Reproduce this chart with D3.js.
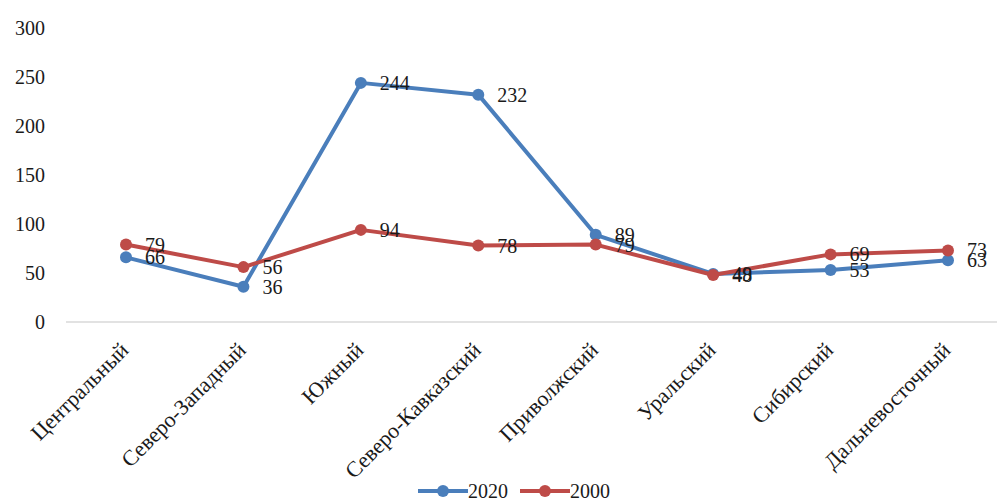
<!DOCTYPE html>
<html>
<head>
<meta charset="utf-8">
<script src="https://cdn.jsdelivr.net/npm/d3@7"></script>
<style>
  html, body { margin: 0; padding: 0; background: #fff; }
  svg { display: block; }
</style>
</head>
<body>
<svg id="chart" width="997" height="502"></svg>
<script>
// Federal districts
const categories = ["Центральный", "Северо-Западный", "Южный", "Северо-Кавказский",
                    "Приволжский", "Уральский", "Сибирский", "Дальневосточный"];
const values2020 = [66, 36, 244, 232, 89, 49, 53, 63];
const values2000 = [79, 56, 94, 78, 79, 48, 69, 73];
const yTicks = [0, 50, 100, 150, 200, 250, 300];
const seriesNames = ["2020", "2000"];
const seriesColors = ["#4A7EBB", "#BE4B48"];

const FONT = "'Liberation Serif', 'Times New Roman', Times, serif";
const FONT_SIZE = "20px";
const CAT_FONT_SIZE = "22px";
const TEXT_COLOR = "#1a1a1a";

const series = [
  { name: seriesNames[0], values: values2020, color: seriesColors[0] },
  { name: seriesNames[1], values: values2000, color: seriesColors[1] }
];

const svg = d3.select("#chart")
  .attr("font-family", FONT)
  .style("font-family", FONT);

const x = d3.scalePoint().domain(categories).range([126, 948]);
const y = d3.scaleLinear().domain([0, 300]).range([322, 28]);

// Baseline
svg.append("line")
  .attr("x1", 66).attr("x2", 997)
  .attr("y1", y(0)).attr("y2", y(0))
  .attr("stroke", "#d9d9d9").attr("stroke-width", 1.5);

// Y axis labels
const yAxis = svg.append("g")
  .attr("transform", "translate(45,0)")
  .call(d3.axisLeft(y).tickValues(yTicks).tickSize(0).tickPadding(0))
  .attr("font-family", FONT)
  .attr("font-size", FONT_SIZE);
yAxis.select(".domain").remove();
yAxis.selectAll("text")
  .style("font-family", FONT)
  .style("font-size", FONT_SIZE)
  .attr("fill", TEXT_COLOR);

// X axis category labels, rotated 45 degrees
const xAxis = svg.append("g")
  .attr("transform", `translate(0,${y(0)})`)
  .call(d3.axisBottom(x).tickSize(0).tickPadding(0))
  .attr("font-family", FONT)
  .attr("font-size", CAT_FONT_SIZE);
xAxis.select(".domain").remove();
xAxis.selectAll("text")
  .style("font-family", FONT)
  .style("font-size", CAT_FONT_SIZE)
  .attr("fill", TEXT_COLOR)
  .attr("text-anchor", "end")
  .attr("y", 0)
  .attr("dy", "0.35em")
  .attr("transform", "translate(-2,24) rotate(-45)");

const line = d3.line()
  .x((d, i) => x(categories[i]))
  .y(d => y(d));

series.forEach(s => {
  const g = svg.append("g");
  g.append("path")
    .datum(s.values)
    .attr("d", line)
    .attr("fill", "none")
    .attr("stroke", s.color)
    .attr("stroke-width", 4)
    .attr("stroke-linejoin", "round");
  g.selectAll("circle")
    .data(s.values)
    .join("circle")
    .attr("cx", (d, i) => x(categories[i]))
    .attr("cy", d => y(d))
    .attr("r", 6)
    .attr("fill", s.color);
});

// Value labels to the right of each point
series.forEach(s => {
  svg.append("g").selectAll("text")
    .data(s.values)
    .join("text")
    .attr("x", (d, i) => x(categories[i]) + 19)
    .attr("y", d => y(d))
    .attr("dy", "0.35em")
    .attr("fill", TEXT_COLOR)
    .style("font-family", FONT)
    .style("font-size", FONT_SIZE)
    .text(d => d);
});

// Legend
const legend = svg.append("g").attr("transform", "translate(418,491)");
const legendItems = [
  { name: seriesNames[0], color: seriesColors[0], x: 0 },
  { name: seriesNames[1], color: seriesColors[1], x: 102 }
];
legendItems.forEach(item => {
  const lg = legend.append("g").attr("transform", `translate(${item.x},0)`);
  lg.append("line")
    .attr("x1", 0).attr("x2", 50)
    .attr("y1", 0).attr("y2", 0)
    .attr("stroke", item.color).attr("stroke-width", 4);
  lg.append("circle").attr("cx", 25).attr("cy", 0).attr("r", 6).attr("fill", item.color);
  lg.append("text")
    .attr("x", 50).attr("y", 0).attr("dy", "0.35em")
    .attr("fill", TEXT_COLOR)
    .style("font-family", FONT)
    .style("font-size", FONT_SIZE)
    .text(item.name);
});
</script>
</body>
</html>
